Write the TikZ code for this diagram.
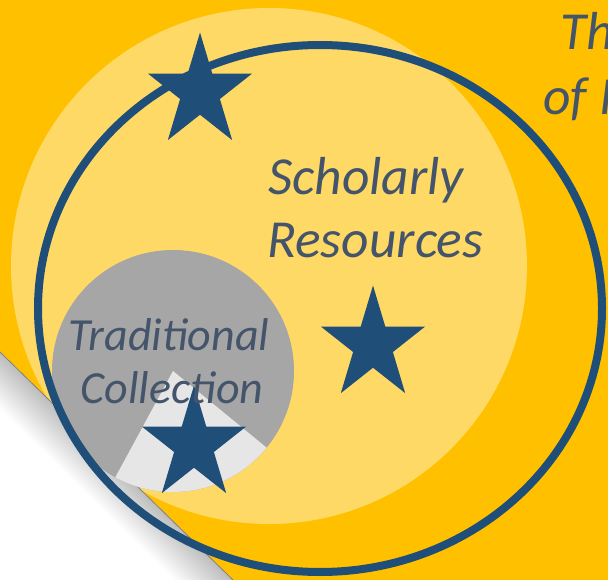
\documentclass[tikz,border=0pt]{standalone}
\usepackage{fontspec}
\setmainfont{Carlito}
\usetikzlibrary{shapes.geometric,positioning}
\definecolor{gold}{HTML}{FFC000}
\definecolor{paleGold}{HTML}{FFD966}
\definecolor{navy}{HTML}{1F4E79}
\definecolor{slate}{HTML}{44546A}
\definecolor{midGray}{HTML}{A6A6A6}
\definecolor{lightGray}{HTML}{E7E6E6}

\begin{document}
\begin{tikzpicture}
    [x=1pt, y=-1pt,
    % STYLES
    % The txt style is used for the italic captions
    txt/.style={inner sep=0pt, text=slate, font=\fontsize{46}{56}\selectfont\itshape},
    % The bigtxt style is used for the caption of the outer disc
    bigtxt/.style={txt, font=\fontsize{53.5}{64}\selectfont\itshape},
    % The bigstar style is used to draw the stars
    bigstar/.style={star, star points=5, star point ratio=2.618, fill=navy, inner sep=0pt, minimum size=119pt, xscale=0.92},
    % The disc style is used for the filled circles
    disc/.style={circle, inner sep=0pt}]

    \useasboundingbox (0,0) rectangle (608,580);
    \clip (0,0) rectangle (608,580);

    % Background and outer disc
    \fill[gold] (0,0) rectangle (608,580);
    \node [disc, fill=paleGold, minimum size=516pt] (sr) at (269,266) {};

    % Page curl
    \coordinate (p) at (0,352);
    \coordinate (q) at (233,580);
    \coordinate (pp) at (-60,293);
    \coordinate (qq) at (293,639);
    \fill[white] (p) -- (q) -- (0,580) -- cycle;
    \begin{scope}
    \clip (p) -- (q) -- (0,580) -- cycle;
    \foreach \w in {5,10,...,80}
    \draw[black, opacity=0.016, line width=\w pt] (pp) -- (qq);
    \end{scope}
    \draw[black!50, line width=0.8pt] (p) -- (q);

    % Traditional collection disc with its light wedge
    \node [disc, fill=midGray, minimum size=242pt] (tc) at (173,371) {};
    \begin{scope}
    \clip (tc.center) circle[radius=121];
    \fill[lightGray] (tc.center) -- ++(39.3:160) arc[start angle=39.3, end angle=118.5, radius=160] -- cycle;
    \end{scope}

    % Outer ring
    \node [ellipse, draw=navy, line width=8pt, inner sep=0pt, minimum width=564pt, minimum height=527pt] (ring) at (320,308.5) {};

    % Stars
    \node [bigstar] (s1) at (200,92) {};
    \node [bigstar] (s2) at (373,345) {};
    \node [bigstar] (s3) at (194,445) {};

    % Captions
    \node [bigtxt, anchor=base west] (a) at (268,195) {Scholarly};
    \node [bigtxt, anchor=base west] (b) at (267,258) {Resources};
    \node [txt, anchor=base] (c) at (169,350) {Traditional};
    \node [txt, anchor=base] (d) at (172,403) {Collection};
    \node [bigtxt, anchor=base west] (e) at (560,50) {Th};
    \node [bigtxt, anchor=base west] (f) at (543,115) {of I};
\end{tikzpicture}
\end{document}
